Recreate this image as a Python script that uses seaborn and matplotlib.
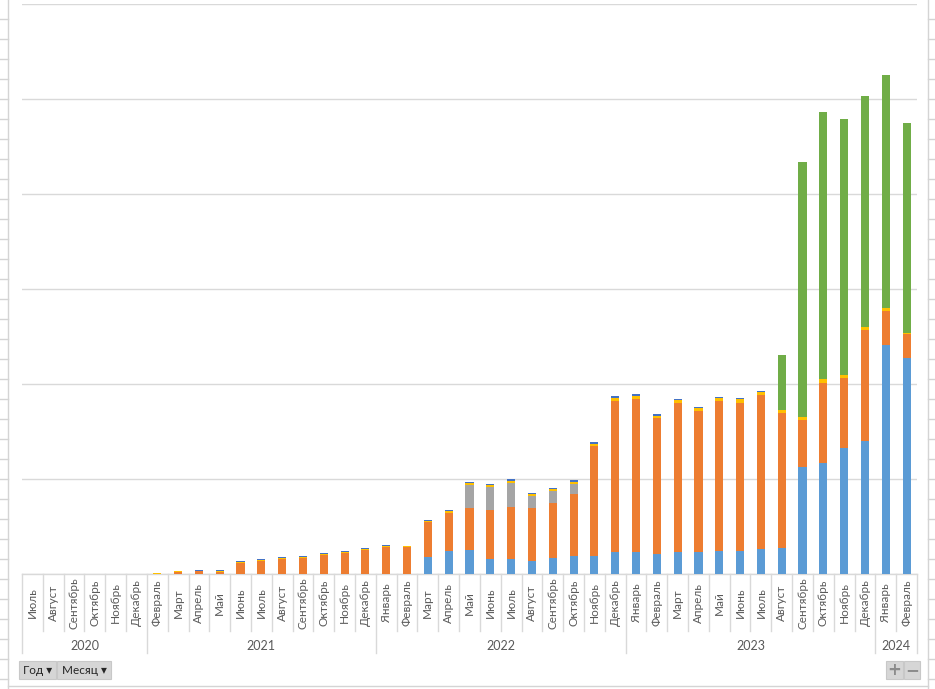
import pandas as pd
import seaborn as sns
import matplotlib.pyplot as plt
from matplotlib.patches import Rectangle
from matplotlib.lines import Line2D
from matplotlib.transforms import blended_transform_factory

# categories (pivot: year / month)
years = (["2020"] * 6 + ["2021"] * 11 + ["2022"] * 12 + ["2023"] * 12 + ["2024"] * 2)
months = ["Июль", "Август", "Сентябрь", "Октябрь", "Ноябрь", "Декабрь",
          "Февраль", "Март", "Апрель", "Май", "Июнь", "Июль", "Август", "Сентябрь",
          "Октябрь", "Ноябрь", "Декабрь",
          "Январь", "Февраль", "Март", "Апрель", "Май", "Июнь", "Июль", "Август",
          "Сентябрь", "Октябрь", "Ноябрь", "Декабрь",
          "Январь", "Февраль", "Март", "Апрель", "Май", "Июнь", "Июль", "Август",
          "Сентябрь", "Октябрь", "Ноябрь", "Декабрь",
          "Январь", "Февраль"]

# series values (stack order bottom -> top)
s_blue = [0, 0, 0, 0, 0, 0,
          0, 0, 0, 0, 0, 0, 0, 0, 0, 0, 0,
          0, 0, 18, 24, 25, 16, 16, 14, 17, 19, 19, 23,
          23, 21, 23, 23, 24, 24, 26, 27, 113, 117, 133, 140,
          241, 227]
s_orange = [0, 0, 0, 0, 0, 0,
            0.5, 2, 3, 2, 12, 14, 16, 17, 20, 22, 25,
            28, 28, 37, 40, 45, 51, 55, 56, 58, 65, 116, 159,
            161, 143, 157, 149, 158, 156, 162, 143, 49, 84, 73, 117,
            36, 26]
s_grey = [0, 0, 0, 0, 0, 0,
          0, 0, 0, 0, 0, 0, 0, 0, 0, 0, 0,
          0, 0, 0, 0, 24, 25, 25, 12, 12, 11, 0, 0,
          0, 0, 0, 0, 0, 0, 0, 0, 0, 0, 0, 0,
          0, 0]
s_yellow = [0, 0, 0, 0, 0, 0,
            1, 1, 0.5, 1, 1, 1, 1, 1, 1, 1, 1,
            2, 1, 1, 2, 2, 2, 2, 2, 2, 2, 2, 3,
            3, 2, 3, 3, 3, 4, 4, 3, 3, 4, 4, 3,
            3, 1]
s_navy = [0, 0, 0, 0, 0, 0,
          0, 0, 1, 1, 1, 1, 1, 1, 1, 1, 1,
          1, 1, 1, 1, 1, 1, 2, 1, 2, 2, 2, 2,
          2, 2, 1, 1, 1, 1, 1, 0, 0, 0, 0, 0,
          0, 0]
s_green = [0, 0, 0, 0, 0, 0,
           0, 0, 0, 0, 0, 0, 0, 0, 0, 0, 0,
           0, 0, 0, 0, 0, 0, 0, 0, 0, 0, 0, 0,
           0, 0, 0, 0, 0, 0, 0, 58, 269, 281, 269, 243,
           245, 221]

series = [s_blue, s_orange, s_grey, s_yellow, s_navy, s_green]
colors = ["#5B9BD5", "#ED7D31", "#A5A5A5", "#FFC000", "#4472C4", "#70AD47"]

n = len(months)
df = pd.DataFrame({"pos": list(range(n))})
for k, s in enumerate(series):
    df[f"s{k}"] = s
df["cum0"] = df["s0"]
for k in range(1, len(series)):
    df[f"cum{k}"] = df[f"cum{k-1}"] + df[f"s{k}"]

W, H = 935, 689
fig = plt.figure(figsize=(W / 100, H / 100), dpi=100)
ax = fig.add_axes([22 / W, (H - 574) / H, 895 / W, 570 / H])

# stacked bars: draw cumulative totals from top layer down
for k in range(len(series) - 1, -1, -1):
    sns.barplot(data=df, x="pos", y=f"cum{k}", color=colors[k], width=0.39,
                saturation=1, errorbar=None, linewidth=0, ax=ax, zorder=3)

ax.set_xlim(-0.5, n - 0.5)
ax.set_ylim(0, 600)
ax.set_yticks(range(0, 601, 100))
ax.yaxis.grid(True, color="#D9D9D9", linewidth=1)
ax.set_axisbelow(True)
ax.tick_params(left=False, bottom=False, labelleft=False, labelbottom=False)
for side in ["left", "right", "top"]:
    ax.spines[side].set_visible(False)
ax.spines["bottom"].set_color("#D9D9D9")
ax.spines["bottom"].set_linewidth(1)
ax.set_xlabel("")
ax.set_ylabel("")

# multi-level category axis
tr = blended_transform_factory(ax.transData, ax.transAxes)
font = ["Lato", "DejaVu Sans"]
row1 = (574 - 631) / 570
row2 = (574 - 653) / 570
for i, m in enumerate(months):
    ax.text(i, (574 - 603) / 570, m, transform=tr, rotation=90, ha="center",
            va="center", fontsize=8.5, color="#595959", family=font)
bounds = [0]
for i in range(1, n):
    if years[i] != years[i - 1]:
        bounds.append(i)
bounds.append(n)
for i in range(n + 1):
    y_end = row2 if i in bounds else row1
    ax.add_line(Line2D([i - 0.5, i - 0.5], [0, y_end], transform=tr,
                       color="#D9D9D9", linewidth=1, clip_on=False))
for a, b in zip(bounds[:-1], bounds[1:]):
    ax.text((a + b - 1) / 2, (574 - 646) / 570, years[a], transform=tr,
            ha="center", va="center", fontsize=9, color="#595959", family=font)


# worksheet frame and pivot buttons
def fx(px):
    return px / W


def fy(py):
    return 1 - py / H


grid = "#D4D4D4"
fig.add_artist(Line2D([fx(8), fx(8)], [fy(0), fy(689)], color=grid, lw=1))
fig.add_artist(Line2D([fx(8), fx(928)], [fy(686), fy(686)], color=grid, lw=1))
fig.add_artist(Line2D([fx(928), fx(928)], [fy(0), fy(689)], color=grid, lw=1))
for r in range(19, 689, 20):
    fig.add_artist(Line2D([fx(0), fx(8)], [fy(r), fy(r)], color=grid, lw=1))
    fig.add_artist(Line2D([fx(928), fx(935)], [fy(r), fy(r)], color=grid, lw=1))

for x0, x1, label in [(19, 56, "Год ▾"), (57, 111, "Месяц ▾")]:
    fig.add_artist(Rectangle((fx(x0), fy(679)), fx(x1) - fx(x0), fy(661) - fy(679),
                             facecolor="#D6D6D6", edgecolor="#C8C8C8", lw=0.8))
    fig.text((fx(x0) + fx(x1)) / 2, (fy(661) + fy(679)) / 2, label, ha="center",
             va="center", fontsize=8.5, color="#262626", family=font)
for x0, x1, label in [(886, 903, "+"), (904, 920, "−")]:
    fig.add_artist(Rectangle((fx(x0), fy(679)), fx(x1) - fx(x0), fy(661) - fy(679),
                             facecolor="#D6D6D6", edgecolor="#C8C8C8", lw=0.8))
    fig.text((fx(x0) + fx(x1)) / 2, (fy(661) + fy(679)) / 2, label, ha="center",
             va="center", fontsize=12, color="#8C8C8C", weight="bold",
             family=["DejaVu Sans"])

fig.savefig("out.png", dpi=100)
